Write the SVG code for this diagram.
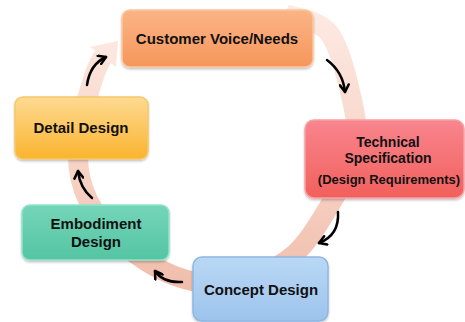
<svg xmlns="http://www.w3.org/2000/svg" width="465" height="322" viewBox="0 0 465 322">
<defs>
<style>
.lbl{font-family:"Liberation Sans",Arial,sans-serif;font-weight:bold;fill:#111;text-anchor:middle}
.box{stroke-width:1.5}
.flow{fill:none;stroke:#000;stroke-width:2.5;stroke-linecap:round}
</style>
<linearGradient id="ringG" gradientUnits="userSpaceOnUse" x1="0" y1="10" x2="0" y2="290">
<stop offset="0" stop-color="#FDEAE3"/>
<stop offset="0.5" stop-color="#F8D6CA"/>
<stop offset="1" stop-color="#F0BDAA"/>
</linearGradient>
<linearGradient id="gOrange" x1="0" y1="0" x2="0" y2="1">
<stop offset="0" stop-color="#FBB486"/><stop offset="1" stop-color="#F6975B"/>
</linearGradient>
<linearGradient id="gRed" x1="0" y1="0" x2="0" y2="1">
<stop offset="0" stop-color="#F8858E"/><stop offset="1" stop-color="#F2605C"/>
</linearGradient>
<linearGradient id="gBlue" x1="0" y1="0" x2="0" y2="1">
<stop offset="0" stop-color="#BAD8F5"/><stop offset="1" stop-color="#9DC3EC"/>
</linearGradient>
<linearGradient id="gTeal" x1="0" y1="0" x2="0" y2="1">
<stop offset="0" stop-color="#74D5B8"/><stop offset="1" stop-color="#54C5A2"/>
</linearGradient>
<linearGradient id="gYellow" x1="0" y1="0" x2="0" y2="1">
<stop offset="0" stop-color="#FEDA92"/><stop offset="1" stop-color="#FAB42E"/>
</linearGradient>
<filter id="sh" x="-10%" y="-10%" width="120%" height="130%">
<feDropShadow dx="0" dy="1.5" stdDeviation="1.2" flood-color="#000" flood-opacity="0.25"/>
</filter>
<marker id="ah" markerUnits="userSpaceOnUse" viewBox="0 0 10 10" refX="8" refY="5" markerWidth="11" markerHeight="11" orient="auto">
<path d="M1.5,1 L8,5 L1.5,9" fill="none" stroke="#000" stroke-width="2.3" stroke-linecap="round" stroke-linejoin="round"/>
</marker>
</defs>

<g id="ring">
<path d="M285,14 C292.3,17.2 317.8,18.7 329,33 C340.2,47.3 347.7,80.5 352,100 C356.3,119.5 358.7,132.5 355,150 C351.3,167.5 340.8,187 330,205 C319.2,223 306.7,245 290,258 C273.3,271 249.2,280 230,283 C210.8,286 193.3,282.8 175,276 C156.7,269.2 134.5,254.7 120,242 C105.5,229.3 95,214.5 88,200 C81,185.5 77.8,171.7 78,155 C78.2,138.3 82.8,116.3 87,100 C91.2,83.7 97,65 103,57" fill="none" stroke="url(#ringG)" stroke-width="20"/>
<polygon points="116,67 90,47 118,41" fill="#FCE7E0"/>
</g>

<g id="connectors">
<path class="flow" d="M327,60 Q343,72 345,92" marker-end="url(#ah)"/>
<path class="flow" d="M338,212 C339,228 332,238 319,243" marker-end="url(#ah)"/>
<path class="flow" d="M182,282 Q163,283 155,271" marker-end="url(#ah)"/>
<path class="flow" d="M92,198 Q80,188 78,171" marker-end="url(#ah)"/>
<path class="flow" d="M87,85 Q90,64 106,57" marker-end="url(#ah)"/>
</g>

<g id="customer">
<rect class="box" x="122" y="10" width="191" height="57" rx="8" fill="url(#gOrange)" stroke="#FCC6A0" filter="url(#sh)"/>
<text class="lbl" x="217" y="44" font-size="15">Customer Voice/Needs</text>
</g>

<g id="technical">
<rect class="box" x="305" y="120" width="159" height="78" rx="9" fill="url(#gRed)" stroke="#F9A0A4" filter="url(#sh)"/>
<text class="lbl" x="388" y="147" font-size="14">Technical</text>
<text class="lbl" x="388" y="163" font-size="14">Specification</text>
<text class="lbl" x="389" y="184" font-size="13">(Design Requirements)</text>
</g>

<g id="concept">
<rect class="box" x="193" y="257" width="135" height="64" rx="9" fill="url(#gBlue)" stroke="#8DB8E4" filter="url(#sh)"/>
<text class="lbl" x="261" y="295" font-size="15">Concept Design</text>
</g>

<g id="embodiment">
<rect class="box" x="22" y="205" width="147" height="55" rx="8" fill="url(#gTeal)" stroke="#93E2CB" filter="url(#sh)"/>
<text class="lbl" x="96" y="229" font-size="15">Embodiment</text>
<text class="lbl" x="96" y="247" font-size="15">Design</text>
</g>

<g id="detail">
<rect class="box" x="15" y="97" width="133" height="62" rx="8" fill="url(#gYellow)" stroke="#F5C868" filter="url(#sh)"/>
<text class="lbl" x="81" y="133" font-size="15">Detail Design</text>
</g>
</svg>
